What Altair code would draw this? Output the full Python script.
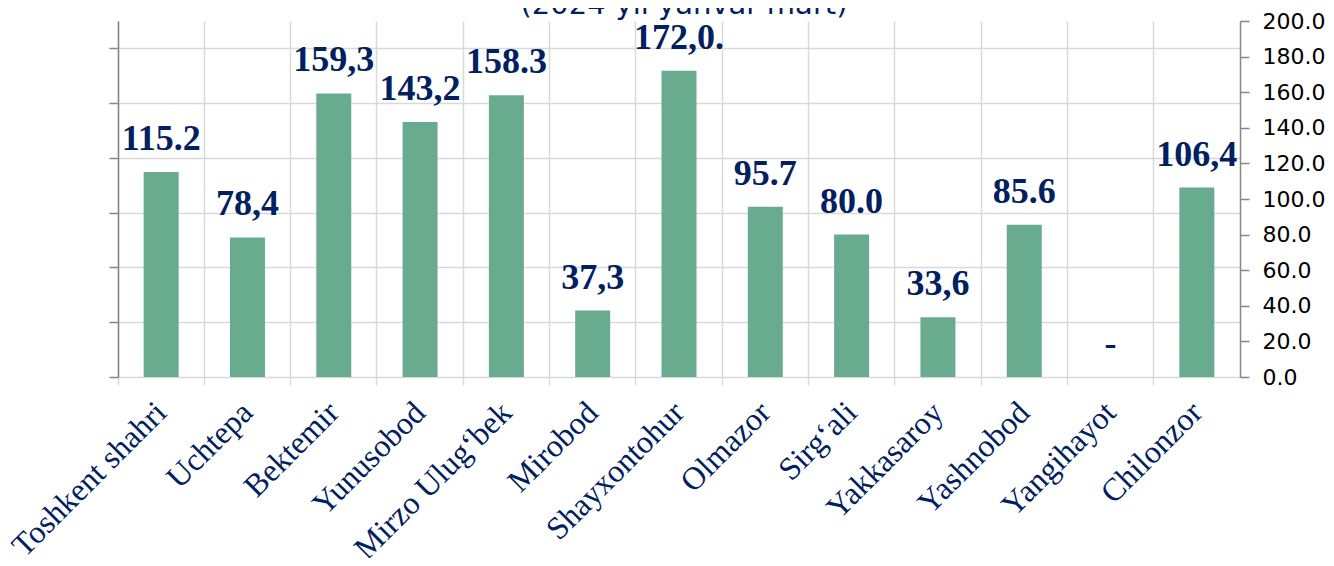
import altair as alt
import pandas as pd

title_text = "(2024-yil yanvar-mart)"
categories = ["Toshkent shahri", "Uchtepa", "Bektemir", "Yunusobod", "Mirzo Ulug‘bek",
              "Mirobod", "Shayxontohur", "Olmazor", "Sirg‘ali", "Yakkasaroy",
              "Yashnobod", "Yangihayot", "Chilonzor"]
values = [115.2, 78.4, 159.3, 143.2, 158.3, 37.3, 172.0, 95.7, 80.0, 33.6, 85.6, 0.0, 106.4]
labels = ["115.2", "78,4", "159,3", "143,2", "158.3", "37,3", "172,0.", "95.7", "80.0",
          "33,6", "85.6", "-", "106,4"]
right_ticks = [0, 20, 40, 60, 80, 100, 120, 140, 160, 180, 200]
left_ticks = [0, 1, 2, 3, 4, 5, 6]

df = pd.DataFrame({"district": categories, "value": values, "label": labels})

NAVY = "#002060"
GRID = "#d9d9d9"
AXIS = "#868686"

x = alt.X("district:N", sort=categories,
          scale=alt.Scale(paddingInner=0, paddingOuter=0),
          axis=alt.Axis(title=None, labelAngle=-45, labelAlign="right", labelBaseline="middle",
                        labelFont="Liberation Serif", labelFontSize=32, labelColor=NAVY,
                        labelPadding=22, labelLimit=500, bandPosition=0,
                        grid=True, gridColor=GRID, gridWidth=1.5,
                        tickColor=GRID, tickSize=8, tickWidth=1.5, domain=False))

left = alt.Chart(df).transform_calculate(zero="0").mark_point(opacity=0).encode(
    x=x,
    y=alt.Y("zero:Q", scale=alt.Scale(domain=[0, 6.5], nice=False),
            axis=alt.Axis(orient="left", values=left_ticks, labels=False, title=None,
                          grid=True, gridColor=GRID, gridWidth=1.5,
                          domainColor=AXIS, domainWidth=1.5,
                          tickColor=AXIS, tickSize=9, tickWidth=1.5))
)

yscale = alt.Scale(domain=[0, 200], nice=False)

bars = alt.Chart(df).mark_bar(size=35, color="#69AB8E").encode(
    x=x,
    y=alt.Y("value:Q", scale=yscale,
            axis=alt.Axis(orient="right", values=right_ticks, format=".1f", grid=False,
                          title=None, labelFont="DejaVu Sans", labelFontSize=22,
                          labelColor="#000000", domainColor=AXIS, domainWidth=1.5,
                          tickColor=AXIS, tickSize=9, tickWidth=1.5, labelPadding=13))
)

text = alt.Chart(df).mark_text(font="Liberation Serif", fontWeight="bold", fontSize=36,
                               color=NAVY, dy=-33, baseline="middle").encode(
    x=x,
    y=alt.Y("value:Q", scale=yscale, axis=None),
    text="label:N"
)

title = alt.Chart(pd.DataFrame({"t": [title_text]})).mark_text(
    font="DejaVu Sans", fontSize=29, color=NAVY, baseline="alphabetic", align="center"
).encode(x=alt.value(566), y=alt.value(-7), text="t:N")

chart = alt.layer(left, bars, text, title).resolve_scale(y="independent").properties(
    width=1122, height=356,
    padding={"left": 110, "top": 13, "right": 86, "bottom": 181},
    autosize=alt.AutoSizeParams(type="none"),
).configure_view(stroke=None)

chart.save("out.html", embed_options={"renderer": "svg", "actions": False})
